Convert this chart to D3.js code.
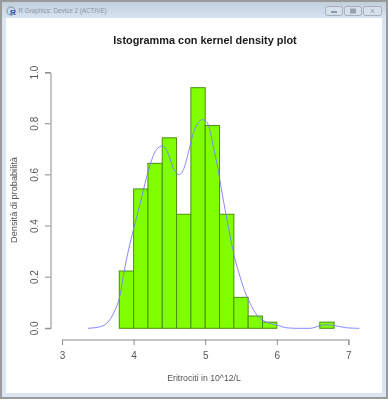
<!DOCTYPE html>
<html><head><meta charset="utf-8">
<script src="https://cdnjs.cloudflare.com/ajax/libs/d3/7.8.5/d3.min.js"></script>
<style>html,body{margin:0;padding:0;background:#fff;overflow:hidden}svg{display:block}text{font-family:"Liberation Sans",Arial,sans-serif}</style>
</head><body><div id="c"></div>
<script>
const chartTitle = "Istogramma con kernel density plot";
const windowTitle = "R Graphics: Device 2 (ACTIVE)";
const xLabel = "Eritrociti in 10^12/L";
const yLabel = "Densità di probabilità";
const xTicks = [3,4,5,6,7];
const yTicks = [0,0.2,0.4,0.6,0.8,1];
const binStarts = [3.8,4.0,4.2,4.4,4.6,4.8,5.0,5.2,5.4,5.6,5.8,6.0,6.2,6.4,6.6];
const binHeights = [0.224,0.545,0.645,0.745,0.446,0.941,0.793,0.446,0.121,0.048,0.024,0,0,0,0.024];
const binWidth = 0.2;
const densX = [3.363,3.531,3.647,3.740,3.800,3.880,3.950,4.020,4.103,4.183,4.253,4.323,4.401,4.471,4.555,4.638,4.704,4.764,4.834,4.904,4.965,5.029,5.113,5.197,5.253,5.323,5.402,5.486,5.556,5.650,5.720,5.859,5.999,6.138,6.278,6.464,6.603,6.697,6.837,6.976,7.152];
const densY = [0,0.006,0.026,0.071,0.117,0.241,0.332,0.410,0.502,0.593,0.659,0.700,0.713,0.691,0.626,0.601,0.626,0.685,0.763,0.804,0.816,0.804,0.711,0.593,0.502,0.398,0.287,0.202,0.143,0.085,0.052,0.024,0.013,0.002,0,0,0.010,0.014,0.009,0.002,0];

const W=388,H=400;
const svg=d3.select("#c").append("svg").attr("width",W).attr("height",H);
const defs=svg.append("defs");
const g1=defs.append("linearGradient").attr("id","tb").attr("x1",0).attr("x2",0).attr("y1",0).attr("y2",1);
g1.append("stop").attr("offset",0).attr("stop-color","#c3cfdc");
g1.append("stop").attr("offset",1).attr("stop-color","#d6e3f1");
defs.append("filter").attr("id","soft").append("feGaussianBlur").attr("stdDeviation",0.35);

// window frame
const frame=svg.append("g");
frame.append("rect").attr("width",W).attr("height",H).attr("fill","#fff");
frame.append("rect").attr("x",1).attr("y",1).attr("width",W-2).attr("height",H-3).attr("fill","#d9e5f2").attr("stroke","#9a9a9a").attr("stroke-width",2);
frame.append("rect").attr("x",2).attr("y",2).attr("width",W-4).attr("height",16).attr("fill","url(#tb)");
frame.append("rect").attr("x",6).attr("y",18).attr("width",376).attr("height",375).attr("fill","#fff");
// R icon
frame.append("circle").attr("cx",11).attr("cy",11).attr("r",4).attr("fill","none").attr("stroke","#9aa6b2").attr("stroke-width",1.4);
frame.append("text").attr("x",13).attr("y",15).attr("font-size",8).attr("font-weight","bold").attr("text-anchor","middle").attr("fill","#2a5db0").text("R");
frame.append("text").attr("x",18.5).attr("y",13.2).attr("font-size",6.3).attr("fill","#8b97a3").text(windowTitle);
// buttons
[[325.5,17,"min"],[344.5,17,"max"],[363.5,18,"close"]].forEach(([bx,w,k])=>{
  frame.append("rect").attr("x",bx).attr("y",6.5).attr("width",w).attr("height",9).attr("rx",2).attr("fill","#d6e0ea").attr("stroke","#a4afba");
  if(k==="min") frame.append("rect").attr("x",bx+5.5).attr("y",11).attr("width",6).attr("height",2).attr("fill","#8f99a3");
  if(k==="max") frame.append("rect").attr("x",bx+5.5).attr("y",8.5).attr("width",6).attr("height",5).attr("fill","#98a2ac");
  if(k==="close") frame.append("text").attr("x",bx+9).attr("y",14).attr("font-size",9).attr("text-anchor","middle").attr("fill","#98a2ac").text("×");
});

const x=d3.scaleLinear().domain([3,7]).range([62,348.4]);
const y=d3.scaleLinear().domain([0,1]).range([328.3,72.6]);
const plot=svg.append("g").attr("filter","url(#soft)");

// histogram bars
plot.append("g").selectAll("rect").data(binStarts).join("rect")
  .attr("x",d=>x(d)).attr("width",d=>x(d+binWidth)-x(d))
  .attr("y",(d,i)=>y(binHeights[i])).attr("height",(d,i)=>y(0)-y(binHeights[i]))
  .attr("fill","#7fff00").attr("stroke","#4c8f10").attr("stroke-width",1);

// density curve
const line=d3.line().x(d=>x(d[0])).y(d=>y(d[1])).curve(d3.curveMonotoneX);
plot.append("path").datum(d3.zip(densX,densY)).attr("d",line)
  .attr("fill","none").attr("stroke","#7a7aff").attr("stroke-width",0.9);

// x axis
const axisCol="#8c8c8c", txtCol="#555";
const xa=plot.append("g").attr("transform","translate(0,339.5)")
  .call(d3.axisBottom(x).tickValues(xTicks).tickSize(5.5).tickPadding(0).tickFormat(d3.format("d")));
xa.selectAll("text").attr("font-size",10).attr("fill",txtCol).attr("font-family","Liberation Sans")
  .attr("y",19.8).attr("dy",0);
// y axis
const ya=plot.append("g").attr("transform","translate(50.5,0)")
  .call(d3.axisLeft(y).tickValues(yTicks).tickSize(5.5).tickPadding(0).tickFormat(d3.format(".1f")));
ya.selectAll(".tick").attr("transform",d=>`translate(0,${y(d)})`);
ya.selectAll("text").attr("font-size",10).attr("fill",txtCol).attr("font-family","Liberation Sans")
  .attr("text-anchor","middle").attr("x",0).attr("y",0).attr("dy",0)
  .attr("transform","translate(-13,0) rotate(-90)");
[xa,ya].forEach(a=>{a.selectAll("path,line").attr("stroke",axisCol).attr("stroke-width",1);});

// titles
plot.append("text").attr("x",205).attr("y",44).attr("text-anchor","middle").attr("font-size",10.9).attr("font-weight","bold").attr("fill","#1a1a1a").text(chartTitle);
plot.append("text").attr("x",204).attr("y",380.5).attr("text-anchor","middle").attr("font-size",8.7).attr("fill","#555").text(xLabel);
plot.append("text").attr("transform","translate(16.5,200) rotate(-90)").attr("text-anchor","middle").attr("font-size",9.2).attr("fill","#555").text(yLabel);
</script></body></html>
